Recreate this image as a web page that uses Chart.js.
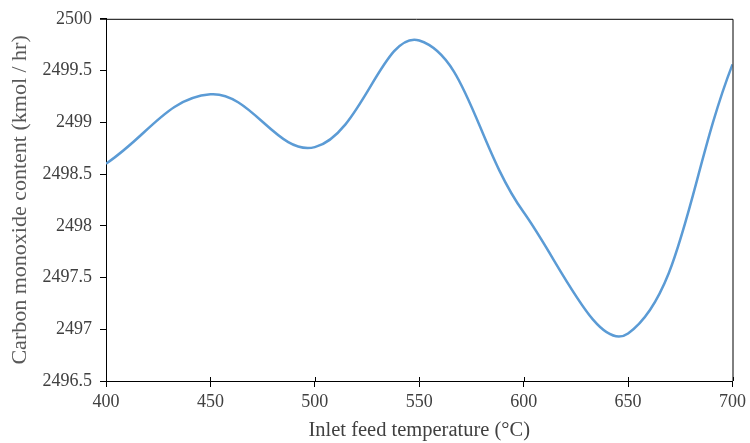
<!DOCTYPE html>
<html>
<head>
<meta charset="utf-8">
<script src="https://cdn.jsdelivr.net/npm/chart.js@4"></script>
<style>
  html, body { margin: 0; padding: 0; background: #fff; }
  #wrap { width: 750px; height: 443px; }
</style>
</head>
<body>
<div id="wrap"><canvas id="chart"></canvas></div>
<script>
// data
const temps = [400, 450, 500, 550, 600, 650, 700];
const coValues = [2498.60, 2499.27, 2498.76, 2499.79, 2498.13, 2496.96, 2499.56];
const xTicks = [400, 450, 500, 550, 600, 650, 700];
const yTicks = [2496.5, 2497, 2497.5, 2498, 2498.5, 2499, 2499.5, 2500];

const ctx = document.querySelector("#chart").getContext('2d');
const serif = '"Liberation Serif", "Times New Roman", serif';

// top and right edges of the plot box
const frame = {
    id: 'frame',
    afterDraw(c) {
        const a = c.chartArea;
        const g = c.ctx;
        g.save();
        g.strokeStyle = '#000';
        g.lineWidth = 1;
        g.beginPath();
        g.moveTo(a.left - 6, a.top + 0.5);
        g.lineTo(a.right + 0.5, a.top + 0.5);
        g.lineTo(a.right + 0.5, a.bottom);
        g.stroke();
        // small inner part of the x ticks
        const xs = c.scales.x;
        g.beginPath();
        xTicks.forEach(t => {
            const px = Math.round(xs.getPixelForValue(t)) + 0.5;
            g.moveTo(px, a.bottom);
            g.lineTo(px, a.bottom - 4);
        });
        g.stroke();
        g.restore();
    }
};

new Chart(ctx, {
    type: 'line',
    data: {
        datasets: [
            {
                label: 'CO',
                data: temps.map((t, i) => ({ x: t, y: coValues[i] })),
                borderColor: '#5B9BD5',
                borderWidth: 2.5,
                pointRadius: 0,
                tension: 0.4,
                fill: false
            }
        ]
    },
    options: {
        responsive: true,
        maintainAspectRatio: false,
        animation: false,
        layout: { padding: { top: 16, right: 16, bottom: 0, left: 0 } },
        plugins: {
            legend: { display: false },
            tooltip: { enabled: false }
        },
        scales: {
            x: {
                type: 'linear',
                min: 400,
                max: 700,
                afterBuildTicks: s => { s.ticks = xTicks.map(v => ({ value: v })); },
                afterFit: s => { s.height = 62; },
                border: { color: '#000', width: 1 },
                grid: { drawOnChartArea: false, tickLength: 6, color: '#000' },
                ticks: {
                    color: '#404040',
                    padding: 4,
                    maxRotation: 0,
                    font: { family: serif, size: 18 },
                    callback: v => String(v)
                },
                title: {
                    display: true,
                    text: 'Inlet feed temperature (\u00B0C)',
                    color: '#404040',
                    padding: { top: 0, bottom: 0 },
                    font: { family: serif, size: 20.5 }
                }
            },
            y: {
                min: 2496.5,
                max: 2500,
                afterBuildTicks: s => { s.ticks = yTicks.map(v => ({ value: v })); },
                afterFit: s => { s.width = 106; },
                border: { color: '#000', width: 1 },
                grid: { drawOnChartArea: false, tickLength: 6, color: '#000' },
                ticks: {
                    color: '#404040',
                    padding: 8,
                    font: { family: serif, size: 18 },
                    callback: v => String(v)
                },
                title: {
                    display: true,
                    text: 'Carbon monoxide content (kmol / hr)',
                    color: '#595959',
                    padding: { top: 7, bottom: 0 },
                    font: { family: serif, size: 22 }
                }
            }
        }
    },
    plugins: [frame]
})
</script>
</body>
</html>
